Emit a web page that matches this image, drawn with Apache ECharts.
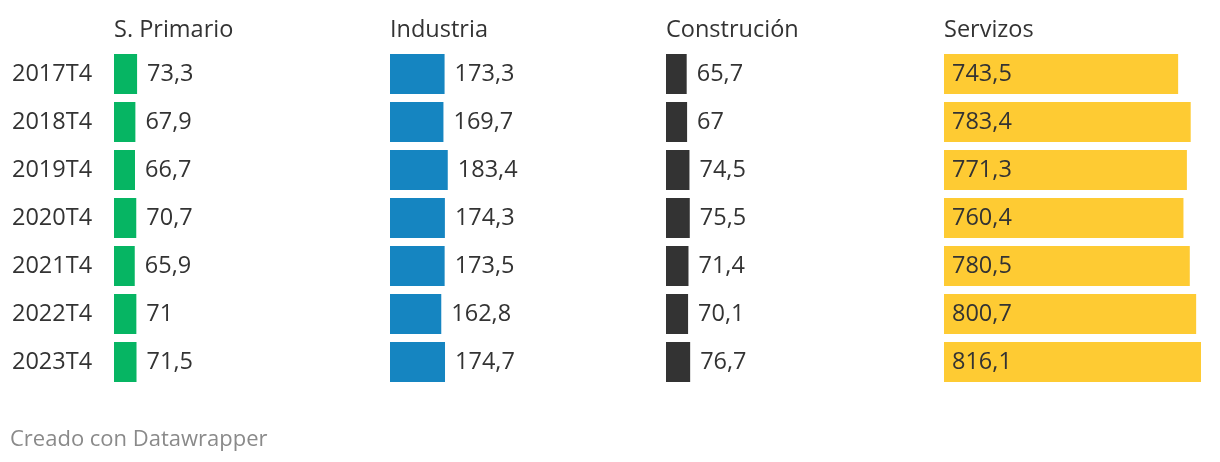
<!DOCTYPE html>
<html><head><meta charset="utf-8">
<script src="https://cdn.jsdelivr.net/npm/echarts@6/dist/echarts.min.js"></script>
<style>html,body{margin:0;padding:0;background:#fff}#c{width:1220px;height:462px}</style>
</head><body><div id="c"></div>
<script>
const categories = ['2017T4','2018T4','2019T4','2020T4','2021T4','2022T4','2023T4'];
const panelTitles = ['S. Primario','Industria','Construción','Servizos'];
const primario = [73.3, 67.9, 66.7, 70.7, 65.9, 71, 71.5];
const industria = [173.3, 169.7, 183.4, 174.3, 173.5, 162.8, 174.7];
const construcion = [65.7, 67, 74.5, 75.5, 71.4, 70.1, 76.7];
const servizos = [743.5, 783.4, 771.3, 760.4, 780.5, 800.7, 816.1];
const footer = 'Creado con Datawrapper';

const seriesData = [primario, industria, construcion, servizos];
const colors = ['#06b563', '#1585c1', '#333333', '#fecb33'];
const lefts = [114, 390, 666, 944];
const W = 257;
const maxV = Math.max(...servizos);
const FONT = '"Open Sans", sans-serif';
const FS = 23.5;
const fmt = v => String(v).replace('.', ',');

const grids = [], xAxes = [], yAxes = [], series = [], titles = [];
lefts.forEach((l, i) => {
  grids.push({left: l, top: 50, width: W, height: 336});
  xAxes.push({type: 'value', gridIndex: i, min: 0, max: maxV, show: false});
  yAxes.push({type: 'category', gridIndex: i, data: categories, inverse: true,
    axisLine: {show: false}, axisTick: {show: false}, splitLine: {show: false},
    axisLabel: {show: i === 0, align: 'left', margin: 102, color: '#333', fontSize: FS, fontFamily: FONT}});
  series.push({type: 'bar', xAxisIndex: i, yAxisIndex: i, data: seriesData[i], barWidth: 40,
    itemStyle: {color: colors[i]}, silent: true,
    label: {show: true, position: i === 3 ? 'insideLeft' : 'right', distance: i === 3 ? 8 : 10,
      color: '#333', fontSize: FS, fontFamily: FONT, formatter: p => fmt(p.value)}});
  titles.push({text: panelTitles[i], left: l, top: 18, padding: 0,
    textStyle: {color: '#333', fontSize: FS, fontWeight: 'normal', fontFamily: FONT}});
});
titles.push({text: footer, left: 10, top: 429, padding: 0,
  textStyle: {color: '#8a8a8a', fontSize: 22, fontWeight: 'normal', fontFamily: FONT}});

const chart = echarts.init(document.getElementById('c'));
chart.setOption({animation: false, title: titles, grid: grids, xAxis: xAxes, yAxis: yAxes, series: series});
</script></body></html>
